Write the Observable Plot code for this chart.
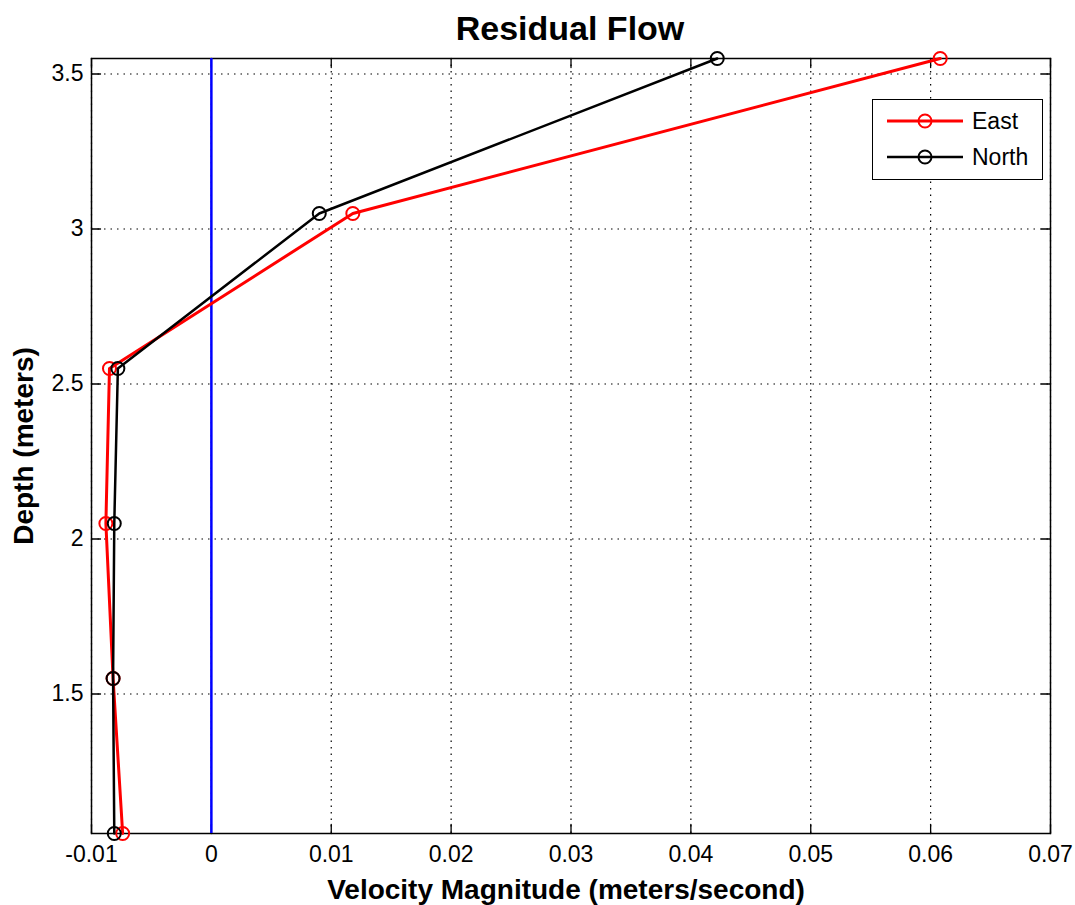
<!DOCTYPE html>
<html><head><meta charset="utf-8">
<script src="https://cdn.jsdelivr.net/npm/d3@7"></script>
<script src="https://cdn.jsdelivr.net/npm/@observablehq/plot@0.6"></script>
<style>
body{margin:0;background:#fff;font-family:"Liberation Sans",Arial,sans-serif;}
#wrap{position:relative;width:1075px;height:905px;}
#legend{position:absolute;left:872px;top:99px;width:171px;height:81px;border:1.5px solid #000;background:#fff;box-sizing:border-box;}
</style>
</head><body>
<div id="wrap"><div id="chart"></div><div id="legend"></div></div>
<script>
const depths = [3.55, 3.05, 2.55, 2.05, 1.55, 1.05];
const eastValues = [0.0608, 0.0118, -0.0085, -0.0088, -0.0082, -0.0074];
const northValues = [0.0422, 0.0090, -0.0078, -0.0081, -0.0082, -0.0081];
const seriesNames = ["East", "North"];
const seriesColors = ["#ff0000", "#000000"];
const xTicks = [-0.01, 0, 0.01, 0.02, 0.03, 0.04, 0.05, 0.06, 0.07];
const yTicks = [1.5, 2, 2.5, 3, 3.5];
const title = "Residual Flow";
const xLabel = "Velocity Magnitude (meters/second)";
const yLabel = "Depth (meters)";

const east = depths.map((d, i) => ({x: eastValues[i], y: d}));
const north = depths.map((d, i) => ({x: northValues[i], y: d}));
const fmt = d => String(+d.toFixed(3));
const font = "Liberation Sans, Arial, sans-serif";
const T = 9;
const tickShape = {draw(ctx, l) { ctx.moveTo(0, 0); ctx.lineTo(0, -l); }};
const tickOpts = {length: T, anchor: "start", shape: tickShape, stroke: "#000", strokeWidth: 1.3};

const chart = Plot.plot({
  width: 1075, height: 905,
  marginLeft: 91, marginRight: 25, marginTop: 58, marginBottom: 72,
  style: {fontFamily: font, fontSize: "23px", color: "#000", background: "#fff"},
  x: {domain: [-0.01, 0.07]},
  y: {domain: [1.05, 3.55]},
  marks: [
    Plot.gridX(xTicks, {stroke: "#000", strokeOpacity: 1, strokeDasharray: "1.5,5", strokeWidth: 1.2}),
    Plot.gridY(yTicks, {stroke: "#000", strokeOpacity: 1, strokeDasharray: "1.5,5", strokeWidth: 1.2}),
    // inward ticks
    Plot.vector(xTicks, {x: d => d, frameAnchor: "bottom", rotate: 0, ...tickOpts}),
    Plot.vector(xTicks, {x: d => d, frameAnchor: "top", rotate: 180, ...tickOpts}),
    Plot.vector(yTicks, {y: d => d, frameAnchor: "left", rotate: 90, ...tickOpts}),
    Plot.vector(yTicks, {y: d => d, frameAnchor: "right", rotate: -90, ...tickOpts}),
    // tick labels
    Plot.axisX(xTicks, {anchor: "bottom", tickSize: 0, tickPadding: 12, tickFormat: fmt, label: null, fontSize: 23}),
    Plot.axisY(yTicks, {anchor: "left", tickSize: 0, tickPadding: 8, tickFormat: fmt, label: null, fontSize: 23}),
    Plot.frame({stroke: "#000", strokeWidth: 1.5}),
    Plot.ruleX([0], {stroke: "#0000ff", strokeWidth: 2.5}),
    Plot.line(east, {x: "x", y: "y", stroke: seriesColors[0], strokeWidth: 3}),
    Plot.dot(east, {x: "x", y: "y", stroke: seriesColors[0], r: 6.5, strokeWidth: 2}),
    Plot.line(north, {x: "x", y: "y", stroke: seriesColors[1], strokeWidth: 2.5}),
    Plot.dot(north, {x: "x", y: "y", stroke: seriesColors[1], r: 6.5, strokeWidth: 2}),
    Plot.text([title], {frameAnchor: "top", lineAnchor: "bottom", dy: -19, dx: -1, fontSize: 34, fontWeight: "bold", fontFamily: font}),
    Plot.text([xLabel], {frameAnchor: "bottom", lineAnchor: "bottom", dy: 65, dx: -5, fontSize: 28, fontWeight: "bold", fontFamily: font}),
    Plot.text([yLabel], {frameAnchor: "left", textAnchor: "middle", dx: -67, rotate: -90, fontSize: 28, fontWeight: "bold", fontFamily: font})
  ]
});
document.getElementById("chart").appendChild(chart);

// legend
const lg = d3.select("#legend").append("svg").attr("width", 168).attr("height", 78);
seriesNames.forEach((n, i) => {
  const y = 21 + i * 36;
  lg.append("line").attr("x1", 14).attr("x2", 90).attr("y1", y).attr("y2", y)
    .attr("stroke", seriesColors[i]).attr("stroke-width", i === 0 ? 3 : 2.5);
  lg.append("circle").attr("cx", 52).attr("cy", y).attr("r", 6.5).attr("fill", "none")
    .attr("stroke", seriesColors[i]).attr("stroke-width", 2);
  lg.append("text").attr("x", 99).attr("y", y + 8).text(n)
    .attr("font-size", 23).attr("font-family", font);
});
</script>
</body></html>
